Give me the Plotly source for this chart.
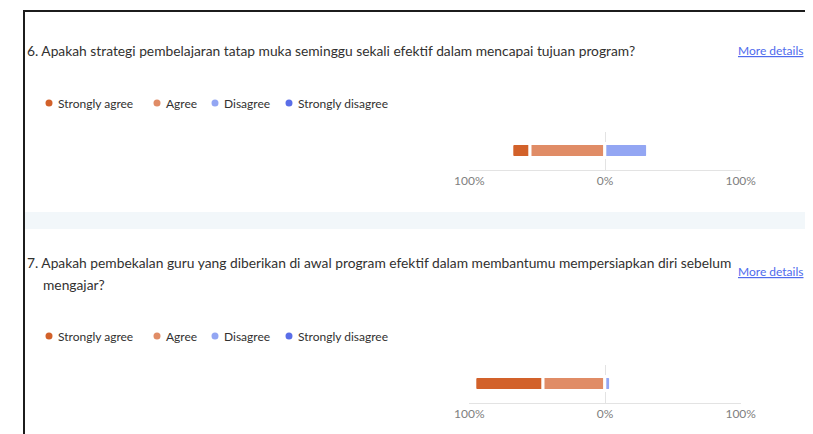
import plotly.graph_objects as go

W, H = 813, 434

categories = ["Strongly agree", "Agree", "Disagree", "Strongly disagree"]
colors = ["#D2612A", "#E08C66", "#93A6F3", "#5A6EE8"]
q6_title = "6. Apakah strategi pembelajaran tatap muka seminggu sekali efektif dalam mencapai tujuan program?"
q7_title_line1 = "7. Apakah pembekalan guru yang diberikan di awal program efektif dalam membantumu mempersiapkan diri sebelum"
q7_title_line2 = "mengajar?"
q6_values = [13.4, 55.0, 31.6, 0.0]
q7_values = [50.0, 45.7, 4.3, 0.0]
tick_vals = [-100, 0, 100]
tick_text = ["100%", "0%", "100%"]
link_text = "More details"

FONT = "Segoe UI, Lato, sans-serif"
TEXT = "#323130"

# page placement of the rendered figure (measured): screen x = OX + PW * paper_x, screen y = OY + H * (1 - paper_y)
OX, PW, OY = 23.0, 782.0, 8.0

def px(x):
    return (x - OX) / PW

def py(y):
    return 1 - (y - OY) / H

fig = go.Figure()

order = [1, 0, 2, 3]
sign = [-1, -1, 1, 1]
for ax, vals in (("", q6_values), ("2", q7_values)):
    for i in order:
        fig.add_trace(go.Bar(
            x=[sign[i] * vals[i]], y=[0], orientation="h",
            name=categories[i], showlegend=False,
            marker=dict(color=colors[i], line=dict(color="white", width=3), cornerradius=3),
            width=0.39,
            xaxis="x" + ax, yaxis="y" + ax,
            hovertemplate=categories[i] + ": %{customdata}%<extra></extra>",
            customdata=[vals[i]],
        ))

xdom = [px(469.3), px(740.7)]
axis_common = dict(
    range=[-100, 100], tickvals=tick_vals, ticktext=tick_text,
    showgrid=True, gridcolor="#e3e3e3", gridwidth=1,
    showline=True, linecolor="#e3e3e3", linewidth=1,
    zeroline=False, ticks="", fixedrange=True,
    tickfont=dict(family=FONT, size=12, color="#808080"),
    domain=xdom,
)
fig.update_layout(
    width=W, height=H,
    margin=dict(l=0, r=0, t=0, b=0),
    paper_bgcolor="white", plot_bgcolor="white",
    barmode="relative", bargap=0,
    xaxis=dict(**axis_common, anchor="y"),
    yaxis=dict(domain=[py(170), py(132)], range=[-0.5, 0.5], visible=False, fixedrange=True),
    xaxis2=dict(**axis_common, anchor="y2"),
    yaxis2=dict(domain=[py(403), py(365)], range=[-0.5, 0.5], visible=False, fixedrange=True),
    font=dict(family=FONT, color=TEXT),
)

shapes = []
# gap band between the two cards
shapes.append(dict(type="rect", xref="paper", yref="paper", x0=0, x1=1.0,
                   y0=py(229), y1=py(212), fillcolor="#F2F7FA", line=dict(width=0), layer="below"))
# screenshot frame
shapes.append(dict(type="line", xref="paper", yref="paper", x0=0, x1=1.0,
                   y0=py(11), y1=py(11), line=dict(color="#1c1c1c", width=2)))
shapes.append(dict(type="line", xref="paper", yref="paper", x0=px(24), x1=px(24),
                   y0=py(10), y1=0, line=dict(color="#1c1c1c", width=2)))

annotations = []
def text(x, y, s, size=13.8, color=TEXT, xanchor="left", **kw):
    annotations.append(dict(xref="paper", yref="paper", x=px(x), y=py(y), text=s,
                            showarrow=False, xanchor=xanchor, yanchor="middle",
                            font=dict(family=FONT, size=size, color=color, **kw)))

text(25, 50, q6_title)
text(25, 262, q7_title_line1)
text(41, 284, q7_title_line2)
for ly in (50, 271):
    annotations.append(dict(xref="paper", yref="paper", x=1.0, y=py(ly), text=link_text,
                            showarrow=False, xanchor="right", yanchor="middle",
                            font=dict(family=FONT, size=12, color="#4F6BED", lineposition="under")))

dot_x = [49, 157, 215, 289]
for ly in (103, 336):
    for cx, name, c in zip(dot_x, categories, colors):
        r = 3.5
        shapes.append(dict(type="circle", xref="paper", yref="paper",
                           x0=px(cx - r), x1=px(cx + r), y0=py(ly + r), y1=py(ly - r),
                           fillcolor=c, line=dict(width=0)))
        text(cx + 7, ly, name, size=12)

fig.update_layout(shapes=shapes, annotations=annotations)
fig.write_html("out.html")
